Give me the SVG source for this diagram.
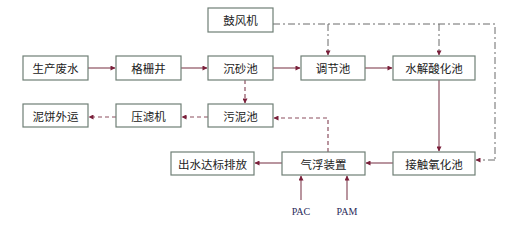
<svg xmlns="http://www.w3.org/2000/svg" width="518" height="226" viewBox="0 0 518 226">
<defs>
<marker id="ah" viewBox="0 0 10 10" refX="9" refY="5" markerWidth="7" markerHeight="5" orient="auto" markerUnits="userSpaceOnUse">
<path d="M0,0 L10,5 L0,10 Z" fill="#7a1f3a"/>
</marker>
<style>
.box{fill:#fff;stroke:#6f7f76;stroke-width:1.2}
.t{font-family:"Noto Sans CJK SC","Noto Sans",sans-serif;font-size:11.5px;fill:#222;text-anchor:middle;dominant-baseline:central}
.s{fill:none;stroke:#8b4f5f;stroke-width:1.2;marker-end:url(#ah)}
.d{fill:none;stroke:#8b4f5f;stroke-width:1.2;stroke-dasharray:4 3;marker-end:url(#ah)}
.dd{fill:none;stroke:#6a6a6a;stroke-width:1;stroke-dasharray:7 3 2 3}
.dda{fill:none;stroke:#6a6a6a;stroke-width:1;stroke-dasharray:7 3 2 3;marker-end:url(#ah)}
.p{font-family:"Liberation Serif",serif;font-size:10px;fill:#2a2a5a;text-anchor:middle}
</style>
</defs>
<rect width="518" height="226" fill="#fff"/>
<g id="connectors">
<path class="s" d="M88,68 H115"/>
<path class="s" d="M181,68 H207"/>
<path class="s" d="M273,68 H300"/>
<path class="s" d="M365,68 H392"/>
<path class="s" d="M439,80 V151"/>
<path class="s" d="M393,163 H366"/>
<path class="s" d="M282,163 H255"/>
<path class="d" d="M245,80 V103"/>
<path class="d" d="M208,117 H182"/>
<path class="d" d="M116,117 H89"/>
<path class="d" d="M328,152 V118 H274"/>
<path class="dd" d="M273,24 H495 V160"/>
<path class="dda" d="M495,160 H476"/>
<path class="dda" d="M328,24 V55"/>
<path class="dda" d="M439,24 V55"/>
<path class="s" d="M301,200 V176"/>
<path class="s" d="M347,200 V176"/>
</g>
<g id="n1"><rect class="box" x="208" y="8" width="65" height="24"/><text class="t" x="240.5" y="20">鼓风机</text></g>
<g id="n2"><rect class="box" x="23" y="56" width="65" height="24"/><text class="t" x="55.5" y="68">生产废水</text></g>
<g id="n3"><rect class="box" x="116" y="56" width="65" height="24"/><text class="t" x="148.5" y="68">格栅井</text></g>
<g id="n4"><rect class="box" x="208" y="56" width="65" height="24"/><text class="t" x="240.5" y="68">沉砂池</text></g>
<g id="n5"><rect class="box" x="301" y="56" width="64" height="24"/><text class="t" x="333" y="68">调节池</text></g>
<g id="n6"><rect class="box" x="393" y="56" width="82" height="24"/><text class="t" x="434" y="68">水解酸化池</text></g>
<g id="n7"><rect class="box" x="23" y="104" width="65" height="23"/><text class="t" x="55.5" y="115.5">泥饼外运</text></g>
<g id="n8"><rect class="box" x="116" y="104" width="65" height="23"/><text class="t" x="148.5" y="115.5">压滤机</text></g>
<g id="n9"><rect class="box" x="208" y="104" width="65" height="23"/><text class="t" x="240.5" y="115.5">污泥池</text></g>
<g id="n10"><rect class="box" x="171" y="152" width="83" height="23"/><text class="t" x="212.5" y="163.5">出水达标排放</text></g>
<g id="n11"><rect class="box" x="282" y="152" width="83" height="23"/><text class="t" x="323.5" y="163.5">气浮装置</text></g>
<g id="n12"><rect class="box" x="393" y="152" width="82" height="23"/><text class="t" x="434" y="163.5">接触氧化池</text></g>
<g id="pac"><text class="p" x="301" y="215">PAC</text></g>
<g id="pam"><text class="p" x="347" y="215">PAM</text></g>
</svg>
